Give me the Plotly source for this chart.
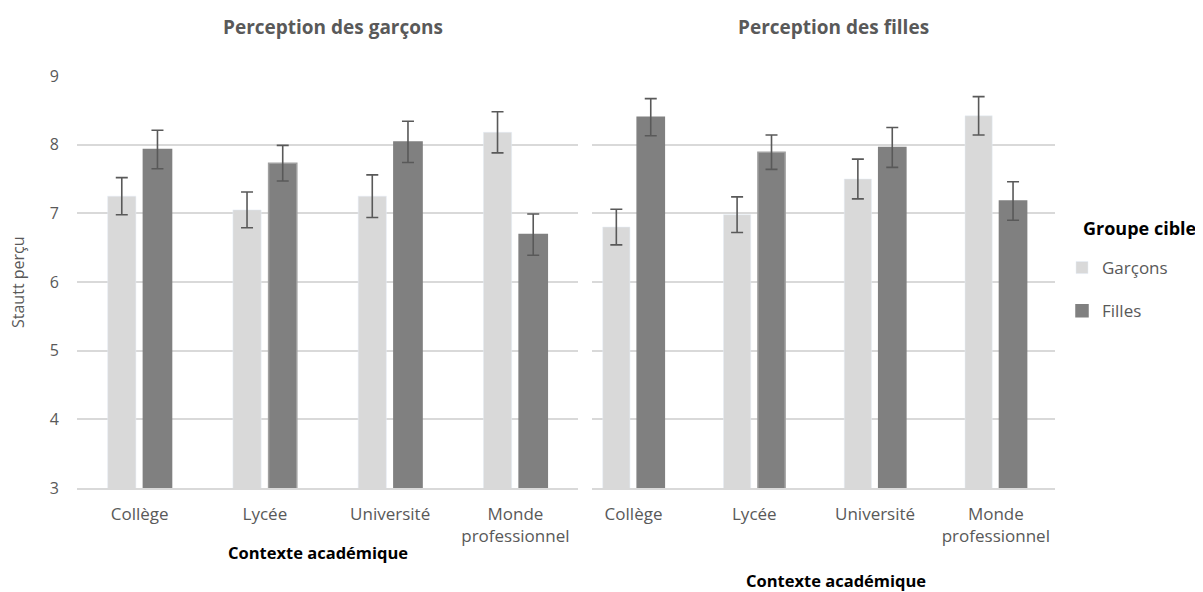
import plotly.graph_objects as go

# Données
contextes = ["Collège", "Lycée", "Université", "Monde<br>professionnel"]

garcons_percu_garcons = [7.25, 7.05, 7.25, 8.18]
filles_percu_garcons = [7.93, 7.73, 8.04, 6.69]
err_garcons_percu_garcons = [0.27, 0.26, 0.31, 0.30]
err_filles_percu_garcons = [0.28, 0.26, 0.30, 0.30]

garcons_percu_filles = [6.80, 6.98, 7.50, 8.42]
filles_percu_filles = [8.40, 7.89, 7.96, 7.18]
err_garcons_percu_filles = [0.26, 0.26, 0.29, 0.28]
err_filles_percu_filles = [0.27, 0.25, 0.29, 0.28]

y_ticks = [3, 4, 5, 6, 7, 8, 9]

COL_G = "#d9d9d9"
COL_F = "#808080"
TXT = "#595959"
GRID = "#d9d9d9"
FONT = "Open Sans"

# la page ajoute une marge de 8 px autour de la figure
OFF = 8
L, T, R, B = 77, 76, 1055, 488   # zone de tracé, en pixels de la page
W, H = 1203 - OFF, 592 - OFF

fig = go.Figure()


def err(vals):
    return dict(type="data", array=vals, color=TXT, thickness=1.6, width=6)


def add_panel(g_vals, f_vals, g_err, f_err, xa, ya, legend):
    fig.add_trace(go.Bar(
        x=contextes, y=g_vals, name="Garçons", marker_color=COL_G,
        error_y=err(g_err), xaxis=xa, yaxis=ya, showlegend=legend,
        legendgroup="g", base=0,
    ))
    fig.add_trace(go.Bar(
        x=contextes, y=f_vals, name="Filles", marker_color=COL_F,
        marker_line=dict(color=[COL_F, "#a0a0a0", COL_F, COL_F], width=1.5),
        error_y=err(f_err), xaxis=xa, yaxis=ya, showlegend=legend,
        legendgroup="f", base=0,
    ))


add_panel(garcons_percu_garcons, filles_percu_garcons,
          err_garcons_percu_garcons, err_filles_percu_garcons, "x", "y", True)
add_panel(garcons_percu_filles, filles_percu_filles,
          err_garcons_percu_filles, err_filles_percu_filles, "x2", "y2", False)

pw = R - L
ph = B - T


def px(x):
    return (x - L) / pw


def py(y):
    return 1 - (y - T) / ph


xcommon = dict(
    type="category", showgrid=False, zeroline=False,
    showline=True, linecolor=GRID, linewidth=1.5,
    tickfont=dict(family=FONT, size=17, color=TXT),
    ticks="", ticklabelstandoff=10,
)
ycommon = dict(
    range=[3, 9], tickvals=y_ticks, showgrid=True, gridcolor=GRID,
    gridwidth=1.5, zeroline=False, showline=False, ticks="",
)


def note(text, x, y, size, color=TXT, angle=0, xanchor="center"):
    return dict(text=text, xref="paper", yref="paper", x=px(x), y=py(y),
                xanchor=xanchor, yanchor="middle", showarrow=False,
                textangle=angle, font=dict(family=FONT, size=size, color=color))


fig.update_layout(
    width=W, height=H,
    margin=dict(l=L - OFF, r=W - (R - OFF), t=T - OFF, b=H - (B - OFF)),
    paper_bgcolor="white", plot_bgcolor="white",
    barmode="group", bargap=0.43, bargroupgap=0.21,
    font=dict(family=FONT, color=TXT),
    xaxis=dict(domain=[0, px(578)], range=[-0.5, 3.5], **xcommon),
    xaxis2=dict(domain=[px(592), 1], range=[-0.344, 3.49], anchor="y2", **xcommon),
    yaxis=dict(anchor="x", showticklabels=True, ticklabelstandoff=17,
               tickfont=dict(family=FONT, size=16, color=TXT), **ycommon),
    yaxis2=dict(anchor="x2", showticklabels=False, **ycommon),
    legend=dict(
        x=px(1062), xanchor="left", y=py(250), yanchor="top",
        font=dict(family=FONT, size=17, color=TXT),
        itemwidth=30, tracegroupgap=18,
    ),
    annotations=[
        note("<b>Perception des garçons</b>", 333, 27, 19),
        note("<b>Perception des filles</b>", 833, 27, 19),
        note("<b>Contexte académique</b>", 318, 552, 16.5, "#000000"),
        note("<b>Contexte académique</b>", 836, 580, 16.5, "#000000"),
        note("Stautt perçu", 18, 282, 16, angle=-90),
        note("<b>Groupe cible</b>", 1081, 228, 18, "#000000", xanchor="left"),
    ],
)

fig.write_html("out.html")
